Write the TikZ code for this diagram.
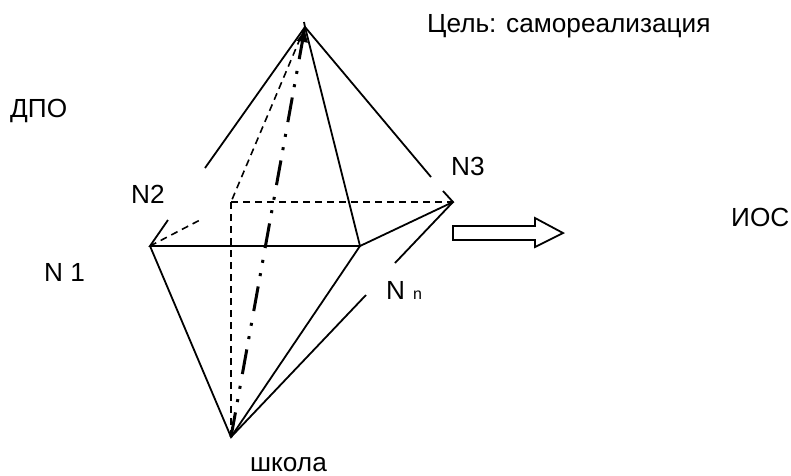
\documentclass[tikz,border=0pt]{standalone}
\usepackage{fontspec}
\setmainfont{Liberation Sans}
\usetikzlibrary{arrows.meta}
\tikzset{
  x=1pt,y=-1pt,
  edge/.style={draw=black,line width=1.8pt},
  hidden/.style={draw=black,line width=1.6pt,dash pattern=on 7pt off 5pt},
  axis/.style={draw=black,line width=3pt,dash pattern=on 25pt off 10.5pt on 3pt off 10.5pt on 3pt off 12pt,-{Latex[length=15pt,width=12pt]}},
  lbl/.style={font=\fontsize{26.2}{30}\selectfont,text=black,inner sep=0pt}
}
\begin{document}
\begin{tikzpicture}
\useasboundingbox (0,0) rectangle (791,475);
\coordinate (apex) at (305,27);
\coordinate (back) at (231,202);
\coordinate (na) at (150,246);
\coordinate (front) at (360,246);
\coordinate (nc) at (453,202);
\coordinate (base) at (231,437);
\coordinate (apexL) at (205,168);
\coordinate (naU) at (168,220);
\coordinate (apexR) at (431,177);
\coordinate (ncU) at (443,191);
\coordinate (ncD) at (395,263);
\coordinate (baseR) at (366,295);
\coordinate (naD) at (200,220);
\coordinate (tick) at (304,22);
% solid edges
\draw[edge] (tick) -- (apex);
\draw[edge] (apex) -- (apexL);
\draw[edge] (naU) -- (na) -- (front) -- (nc) -- (ncU);
\draw[edge] (apex) -- (apexR);
\draw[edge] (apex) -- (front);
\draw[edge] (nc) -- (ncD);
\draw[edge] (na) -- (base) -- (front);
\draw[edge] (base) -- (baseR);
% hidden edges
\draw[hidden] (apex) -- (back);
\draw[hidden] (back) -- (nc);
\draw[hidden] (back) -- (base);
\draw[hidden] (na) -- (naD);
% axis
\draw[axis] (base) -- (apex);
% block arrow
\draw[edge,fill=white,line join=miter] (453,226) -- (535,226) -- (535,218) -- (563,233) -- (535,247) -- (535,240) -- (453,240) -- cycle;
% labels
\node[lbl,anchor=base west] (goal) at (427,32) {Цель: самореализация};
\node[lbl,anchor=base west] (dpo) at (10,117) {ДПО};
\node[lbl,anchor=base west] (n2) at (131,203) {N2};
\node[lbl,anchor=base west] (n3) at (451,175) {N3};
\node[lbl,anchor=base west] (n1) at (44,281) {N 1};
\node[lbl,anchor=base west] (nn) at (386,299) {N\hspace{8pt}{\fontsize{16}{18}\selectfont n}};
\node[lbl,anchor=base west] (ios) at (731,226) {ИОС};
\node[lbl,anchor=base west] (school) at (250,471) {школа};
\end{tikzpicture}
\end{document}
